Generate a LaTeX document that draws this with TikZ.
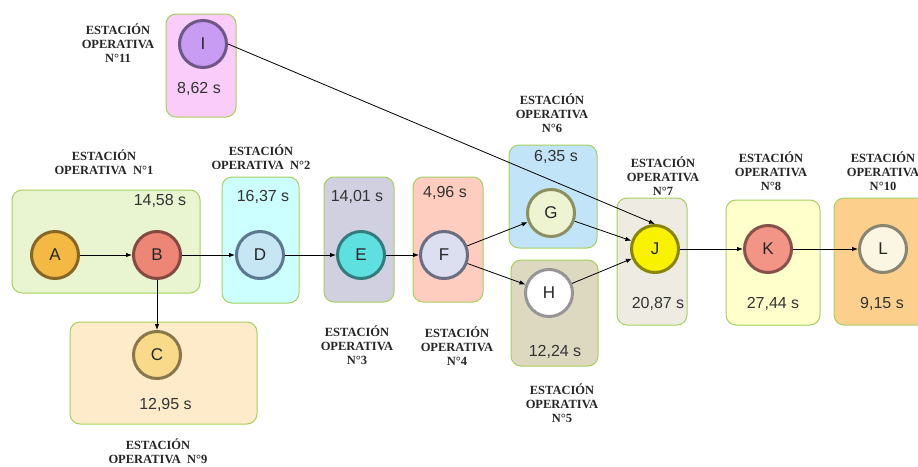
\documentclass[tikz,border=0pt]{standalone}
\usepackage{fontspec}
\setmainfont{Liberation Serif}
\newfontfamily\arial{Liberation Sans}
\usetikzlibrary{arrows.meta}

\definecolor{borde}{HTML}{A6D05E}
% fondos de las cajas
\definecolor{fI}{HTML}{F9CCF9}
\definecolor{f1}{HTML}{E9F4D1}
\definecolor{f2}{HTML}{CCFFFF}
\definecolor{f3}{HTML}{D0D0E0}
\definecolor{f4}{HTML}{FFCCC0}
\definecolor{f5}{HTML}{DDD8C0}
\definecolor{f6}{HTML}{C2E4F8}
\definecolor{f7}{HTML}{EDEBE2}
\definecolor{f8}{HTML}{FFFFCC}
\definecolor{f9}{HTML}{FDEBC9}
\definecolor{f10}{HTML}{FCD08C}
% bolas
\definecolor{bA}{HTML}{F4B942}
\definecolor{bB}{HTML}{EE8676}
\definecolor{bC}{HTML}{F9D98A}
\definecolor{bD}{HTML}{C6E6F3}
\definecolor{bE}{HTML}{5EE0E0}
\definecolor{bF}{HTML}{DCDFEF}
\definecolor{bG}{HTML}{EEF4D2}
\definecolor{bH}{HTML}{FFFFFF}
\definecolor{bI}{HTML}{C89CF2}
\definecolor{bJ}{HTML}{F8F200}
\definecolor{bK}{HTML}{F29486}
\definecolor{bL}{HTML}{FBF6E2}
\definecolor{rD}{HTML}{5A7890}
\definecolor{rF}{HTML}{6A6E80}
\definecolor{rG}{HTML}{8A9060}
\definecolor{rH}{HTML}{959595}
\definecolor{rL}{HTML}{8A8570}

\begin{document}
\begin{tikzpicture}[x=1pt, y=-1pt,
        caja/.style = {rectangle, rounded corners=10pt, draw=borde, line width=1pt},
        bola/.style = {circle, minimum size=47pt, inner sep=0pt, line width=3pt,
          fill=#1, draw=#1!55!black, text=black!85,
          font=\arial\fontsize{17}{20}\selectfont},
        tiempo/.style = {font=\arial\fontsize{16}{19}\selectfont, text=black!80},
        estacion/.style = {align=center, text=black!85,
          font=\bfseries\fontsize{12.5}{14}\selectfont},
        flecha/.style = {-{Latex[length=6pt,width=4.5pt]}, line width=0.8pt}]
  \useasboundingbox (0,0) rectangle (918,466);

  % cajas de las estaciones
  \node[caja, fill=fI, minimum width=70pt, minimum height=103pt] (cI) at (201,65.5) {};
  \node[caja, fill=f1, minimum width=188pt, minimum height=103pt] (c1) at (106,241.5) {};
  \node[caja, fill=f2, minimum width=77pt, minimum height=126pt] (c2) at (260.5,240) {};
  \node[caja, fill=f3, minimum width=70pt, minimum height=125pt] (c3) at (359,239.5) {};
  \node[caja, fill=f4, minimum width=70pt, minimum height=125pt] (c4) at (448,239.5) {};
  \node[caja, fill=f6, minimum width=88pt, minimum height=103pt] (c6) at (553,196.5) {};
  \node[caja, fill=f5, minimum width=87pt, minimum height=106pt] (c5) at (554.5,313) {};
  \node[caja, fill=f7, minimum width=70pt, minimum height=127pt] (c7) at (652,261.5) {};
  \node[caja, fill=f8, minimum width=94pt, minimum height=125pt] (c8) at (773,262.5) {};
  \node[caja, fill=f10, minimum width=96pt, minimum height=127pt] (c10) at (882,261.5) {};
  \node[caja, fill=f9, minimum width=187pt, minimum height=102pt] (c9) at (163.5,373) {};

  % tiempos
  \node[tiempo] (tI) at (199,89) {8,62 s};
  \node[tiempo] (t1) at (160,201) {14,58 s};
  \node[tiempo] (t2) at (263,197) {16,37 s};
  \node[tiempo] (t3) at (357,197) {14,01 s};
  \node[tiempo] (t4) at (445,193) {4,96 s};
  \node[tiempo] (t6) at (556,157) {6,35 s};
  \node[tiempo] (t5) at (555,352) {12,24 s};
  \node[tiempo] (t7) at (658,304) {20,87 s};
  \node[tiempo] (t8) at (773,304) {27,44 s};
  \node[tiempo] (t10) at (882,304) {9,15 s};
  \node[tiempo] (t9) at (165.5,405) {12,95 s};

  % etiquetas
  \node[estacion] (e11) at (118,43.5) {ESTACIÓN\\OPERATIVA\\N°11};
  \node[estacion] (e1) at (104,162) {ESTACIÓN\\OPERATIVA\enspace N°1};
  \node[estacion] (e2) at (261,157) {ESTACIÓN\\OPERATIVA\enspace N°2};
  \node[estacion] (e3) at (357,345) {ESTACIÓN\\OPERATIVA\\N°3};
  \node[estacion] (e4) at (457,346) {ESTACIÓN\\OPERATIVA\\N°4};
  \node[estacion] (e6) at (552,113) {ESTACIÓN\\OPERATIVA\\N°6};
  \node[estacion] (e5) at (562,403) {ESTACIÓN\\OPERATIVA\\N°5};
  \node[estacion] (e7) at (663,176) {ESTACIÓN\\OPERATIVA\\N°7};
  \node[estacion] (e8) at (771,171) {ESTACIÓN\\OPERATIVA\\N°8};
  \node[estacion] (e10) at (883,171) {ESTACIÓN\\OPERATIVA\\N°10};
  \node[estacion] (e9) at (158,451) {ESTACIÓN\\OPERATIVA\enspace N°9};

  % tareas
  \node[bola=bA] (A) at (55,255) {A};
  \node[bola=bB] (B) at (157,255) {B};
  \node[bola=bC] (C) at (157,355) {C};
  \node[bola=bD, draw=rD] (D) at (260,255) {D};
  \node[bola=bE] (E) at (361,255) {E};
  \node[bola=bF, draw=rF] (F) at (444,255) {F};
  \node[bola=bG, draw=rG] (G) at (551,213) {G};
  \node[bola=bH, draw=rH] (H) at (549,293) {H};
  \node[bola=bI] (I) at (203,44) {I};
  \node[bola=bJ] (J) at (655,249) {J};
  \node[bola=bK] (K) at (768,249) {K};
  \node[bola=bL, draw=rL] (L) at (883,249) {L};

  % precedencias
  \draw[flecha] (A) -- (B);
  \draw[flecha] (B) -- (C);
  \draw[flecha] (B) -- (D);
  \draw[flecha] (D) -- (E);
  \draw[flecha] (E) -- (F);
  \draw[flecha] (F) -- (G);
  \draw[flecha] (F) -- (H);
  \draw[flecha] (G) -- (J);
  \draw[flecha] (H) -- (J);
  \draw[flecha] (I.east) -- (J.north);
  \draw[flecha] (J) -- (K);
  \draw[flecha] (K) -- (L);
\end{tikzpicture}
\end{document}
